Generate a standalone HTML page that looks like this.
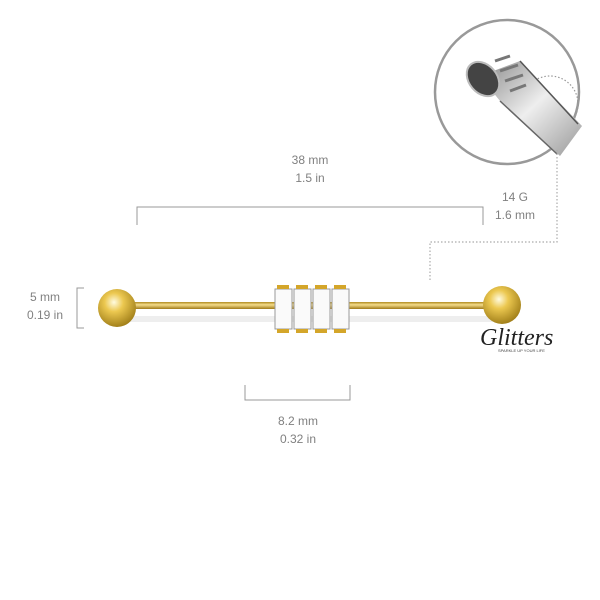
<!DOCTYPE html>
<html><head><style>
body{margin:0;background:#fff}
.t{position:absolute;font-family:"Liberation Sans",sans-serif;font-size:12px;color:#808080;text-align:center;line-height:18px}
</style></head><body>
<div style="position:relative;width:600px;height:600px;overflow:hidden">
<svg width="600" height="600" style="position:absolute;left:0;top:0">
<defs>
<radialGradient id="g" cx="0.42" cy="0.35" r="0.7"><stop offset="0" stop-color="#fffbe0"/><stop offset="0.35" stop-color="#ecc850"/><stop offset="1" stop-color="#9a7814"/></radialGradient>
<linearGradient id="b" x1="0" y1="0" x2="0" y2="1"><stop offset="0" stop-color="#b08a20"/><stop offset="0.4" stop-color="#f4dc8a"/><stop offset="1" stop-color="#a07a18"/></linearGradient>
<linearGradient id="s" x1="0" y1="0" x2="1" y2="1"><stop offset="0" stop-color="#888"/><stop offset="0.5" stop-color="#eee"/><stop offset="1" stop-color="#999"/></linearGradient>
</defs>
<circle cx="507" cy="92" r="72" fill="#fff" stroke="#999" stroke-width="2.5"/>
<circle cx="550" cy="104" r="28" fill="none" stroke="#999" stroke-width="1.2" stroke-dasharray="1.5 2"/>
<polygon points="480,76 520,61 582,126 560,156 500,101" fill="url(#s)"/>
<line x1="520" y1="61" x2="578" y2="124" stroke="#555" stroke-width="1.5"/>
<line x1="500" y1="101" x2="557" y2="154" stroke="#666" stroke-width="1.5"/>
<ellipse cx="483" cy="79" rx="14" ry="19" transform="rotate(-40 483 79)" fill="#444" stroke="#bbb" stroke-width="2"/>
<path d="M495 61 l15 -5 M500 71 l18 -6 M505 81 l18 -6 M510 91 l16 -6" stroke="#777" stroke-width="3"/>
<polyline points="557,150 557,242 430,242 430,282" fill="none" stroke="#aaa" stroke-width="1.2" stroke-dasharray="1.5 2"/>
<polyline points="137,225 137,207 483,207 483,225" fill="none" stroke="#999" stroke-width="1"/>
<polyline points="245,385 245,400 350,400 350,385" fill="none" stroke="#999" stroke-width="1"/>
<polyline points="84,288 77,288 77,328 84,328" fill="none" stroke="#999" stroke-width="1"/>
<rect x="120" y="316" width="380" height="6" fill="#eee"/>
<rect x="118" y="302" width="384" height="7" fill="url(#b)"/>
<circle cx="117" cy="308" r="19" fill="url(#g)"/>
<circle cx="502" cy="305" r="19" fill="url(#g)"/>
<g fill="#fafafa" stroke="#999" stroke-width="1">
<rect x="275" y="289" width="17" height="40"/><rect x="294" y="289" width="17" height="40"/><rect x="313" y="289" width="17" height="40"/><rect x="332" y="289" width="17" height="40"/>
</g>
<g fill="#d4a62a">
<rect x="277" y="285" width="12" height="4"/><rect x="296" y="285" width="12" height="4"/><rect x="315" y="285" width="12" height="4"/><rect x="334" y="285" width="12" height="4"/>
<rect x="277" y="329" width="12" height="4"/><rect x="296" y="329" width="12" height="4"/><rect x="315" y="329" width="12" height="4"/><rect x="334" y="329" width="12" height="4"/>
</g>
<text x="480" y="345" font-family="Liberation Serif,serif" font-style="italic" font-size="24" fill="#222">Glitters</text>
<text x="498" y="352" font-family="Liberation Sans,sans-serif" font-size="4" fill="#444">SPARKLE UP YOUR LIFE</text>
</svg>
<div class="t" style="left:270px;top:151px;width:80px">38 mm<br>1.5 in</div>
<div class="t" style="left:485px;top:188px;width:60px">14 G<br>1.6 mm</div>
<div class="t" style="left:15px;top:288px;width:60px">5 mm<br>0.19 in</div>
<div class="t" style="left:258px;top:412px;width:80px">8.2 mm<br>0.32 in</div>
</div>
</body></html>
